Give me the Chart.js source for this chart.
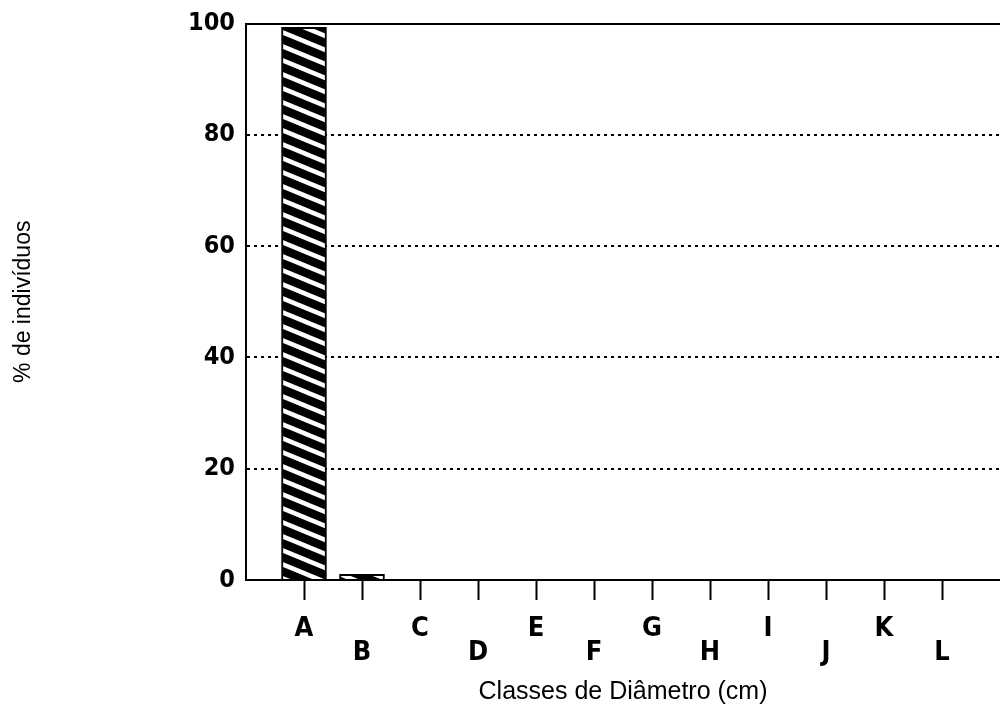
<!DOCTYPE html>
<html lang="pt">
<head>
  <meta charset="UTF-8">
  <title>Classes de Diâmetro</title>
  <script src="https://cdn.jsdelivr.net/npm/chart.js"></script>
  <style>
    html, body { margin: 0; padding: 0; background: #fff; }
    #wrap { width: 1000px; height: 717px; position: relative; }
  </style>
</head>
<body>
  <div id="wrap"><canvas id="diamChart"></canvas></div>

  <script>
    // diameter classes and % of individuals per class
    const classes = ['A', 'B', 'C', 'D', 'E', 'F', 'G', 'H', 'I', 'J', 'K', 'L'];
    const percentIndividuals = [99.3, 1.0, 0, 0, 0, 0, 0, 0, 0, 0, 0, 0];
    const yTicks = [0, 20, 40, 60, 80, 100];

    // blank slots at both ends so A sits one step right of the axis
    const labels = [''].concat(classes, ['']);
    const values = [null].concat(percentIndividuals, [null]);

    const NARROW = "'DejaVu Sans Condensed', 'DejaVu Sans', sans-serif";
    const SANS = "'Liberation Sans', Arial, sans-serif";

    // black bar with white diagonal stripes
    function hatchPattern() {
      const w = 34, h = 14;
      const c = document.createElement('canvas');
      c.width = w; c.height = h;
      const g = c.getContext('2d');
      g.fillStyle = '#000';
      g.fillRect(0, 0, w, h);
      g.strokeStyle = '#fff';
      g.lineWidth = 4.5;
      for (const dy of [-h, 0, h]) {
        g.beginPath();
        g.moveTo(-w, dy - h);
        g.lineTo(2 * w, dy + 2 * h);
        g.stroke();
      }
      return g.createPattern(c, 'repeat');
    }

    const ctx = document.getElementById('diamChart').getContext('2d');
    new Chart(ctx, {
      type: 'bar',
      data: {
        labels: labels,
        datasets: [{
          data: values,
          backgroundColor: hatchPattern(),
          borderColor: '#000',
          borderWidth: 2,
          barThickness: 45
        }]
      },
      options: {
        responsive: true,
        maintainAspectRatio: false,
        animation: false,
        layout: { padding: 0 },
        plugins: { legend: { display: false }, tooltip: { enabled: false } },
        scales: {
          x: {
            type: 'category',
            offset: false,
            grid: {
              offset: false,
              drawOnChartArea: false,
              drawTicks: true,
              tickLength: 20,
              tickWidth: 2,
              tickColor: (c) => (labels[c.index] ? '#000' : 'rgba(0,0,0,0)')
            },
            border: { display: true, color: '#000', width: 2 },
            ticks: {
              autoSkip: false,
              maxRotation: 0,
              padding: 17,
              color: '#000',
              font: { family: NARROW, size: 27, weight: 'bold', lineHeight: '24px' },
              // stagger: A, C, E... high; B, D, F... low
              callback: (v, i) => (i % 2 === 1 ? labels[i] : ['', labels[i]])
            },
            title: {
              display: true,
              text: 'Classes de Diâmetro (cm)',
              color: '#000',
              font: { family: SANS, size: 25, lineHeight: 1.2 },
              padding: { top: 0, bottom: 10 }
            },
            afterFit: (s) => { s.height = 137; s.paddingLeft = 0; s.paddingRight = 0; }
          },
          xTop: {
            type: 'category',
            position: 'top',
            offset: false,
            grid: { display: false, drawTicks: false },
            border: { display: true, color: '#000', width: 2 },
            ticks: { display: false },
            afterFit: (s) => { s.height = 18; s.paddingLeft = 0; s.paddingRight = 0; }
          },
          y: {
            min: 0,
            max: 100,
            afterBuildTicks: (s) => { s.ticks = yTicks.map(v => ({ value: v })); },
            grid: {
              drawTicks: false,
              lineWidth: 2,
              color: (c) => (c.tick && (c.tick.value === 0 || c.tick.value === 100) ? 'rgba(0,0,0,0)' : '#000')
            },
            border: { display: true, color: '#000', width: 2, dash: [3, 4] },
            ticks: {
              padding: 11,
              color: '#000',
              font: { family: NARROW, size: 25, weight: 'bold', lineHeight: 1 }
            },
            title: {
              display: true,
              text: '% de indivíduos',
              color: '#000',
              font: { family: SANS, size: 23, lineHeight: 1.2 },
              padding: { top: 10, bottom: 0 }
            },
            afterFit: (s) => { s.width = 246; }
          }
        }
      }
    });
  </script>
</body>
</html>
